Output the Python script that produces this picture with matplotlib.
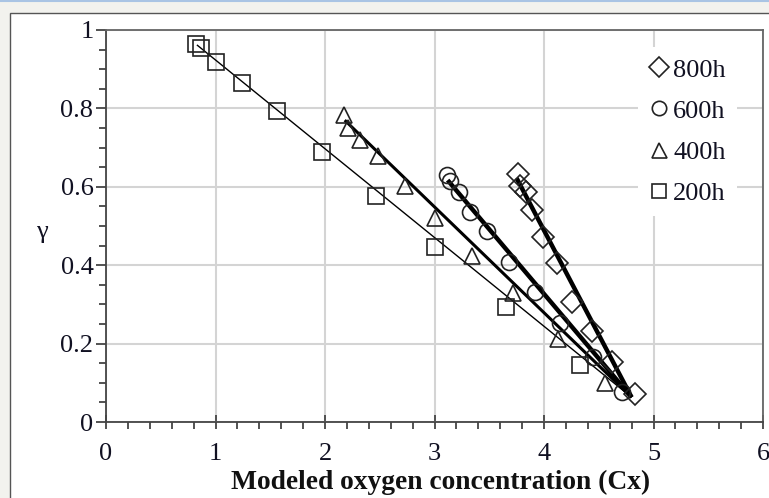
import numpy as np
import matplotlib
matplotlib.use('Agg')
import matplotlib.pyplot as plt
from matplotlib.patches import Rectangle
from matplotlib.lines import Line2D
from matplotlib.ticker import MultipleLocator, FuncFormatter

# ---- data ----
labels = ['800h', '600h', '400h', '200h']

x_800 = [3.76, 3.78, 3.84, 3.89, 3.99, 4.12, 4.26, 4.44, 4.62, 4.83]
y_800 = [0.633, 0.602, 0.587, 0.541, 0.472, 0.406, 0.306, 0.232, 0.153, 0.071]

x_600 = [3.11, 3.14, 3.22, 3.32, 3.48, 3.68, 3.92, 4.15, 4.45, 4.71]
y_600 = [0.630, 0.615, 0.587, 0.536, 0.487, 0.408, 0.332, 0.253, 0.166, 0.077]

x_400 = [2.17, 2.21, 2.32, 2.48, 2.73, 3.00, 3.34, 3.72, 4.13, 4.56]
y_400 = [0.783, 0.750, 0.719, 0.679, 0.602, 0.520, 0.423, 0.329, 0.212, 0.099]

x_200 = [0.82, 0.87, 1.00, 1.24, 1.56, 1.97, 2.47, 3.00, 3.65, 4.33]
y_200 = [0.964, 0.954, 0.918, 0.865, 0.793, 0.690, 0.577, 0.446, 0.293, 0.145]

# trend lines: start points per series, common end point
fit_start_x = {'800h': 3.75, '600h': 3.12, '400h': 2.18, '200h': 0.83}
fit_start_y = {'800h': 0.622, '600h': 0.617, '400h': 0.770, '200h': 0.962}
fit_end_x = 4.80
fit_end_y = 0.063

x_ticks = [0, 1, 2, 3, 4, 5, 6]
y_ticks = [0, 0.2, 0.4, 0.6, 0.8, 1.0]

# ---- figure ----
fig = plt.figure(figsize=(7.69, 4.98), dpi=100, facecolor='#f2f2ee')
fig.add_artist(Rectangle((10 / 769, -0.1), 1.2, 1 - 13 / 498 + 0.1,
                         transform=fig.transFigure, facecolor='white',
                         edgecolor='#555555', lw=1.0, zorder=-2))
fig.add_artist(Line2D([0, 1], [0.998, 0.998], transform=fig.transFigure,
                      color='#a9c4e4', lw=1.5, zorder=-1))

ax = fig.add_axes([106 / 769, 1 - 422 / 498, 657 / 769, 392 / 498])
ax.set_facecolor('white')

serif = 'Liberation Serif'
FS = 19
markers = {'800h': 'D', '600h': 'o', '400h': '^', '200h': 's'}
msizes = {'800h': 11, '600h': 11.5, '400h': 12, '200h': 11.5}
lwidths = {'800h': 3.2, '600h': 3.2, '400h': 2.2, '200h': 1.0}
data = {'800h': (x_800, y_800), '600h': (x_600, y_600),
        '400h': (x_400, y_400), '200h': (x_200, y_200)}

for lab in ['200h', '400h', '600h', '800h']:
    xs, ys = data[lab]
    ax.plot([fit_start_x[lab], fit_end_x], [fit_start_y[lab], fit_end_y],
            color='black', lw=lwidths[lab], zorder=3, solid_capstyle='butt')
    ax.plot(xs, ys, ls='none', marker=markers[lab], ms=msizes[lab],
            mfc='none', mec='#222222', mew=1.2, zorder=4)

ax.set_xlim(0, 6)
ax.set_ylim(0, 1)
ax.set_xticks(x_ticks)
ax.set_yticks(y_ticks)
ax.xaxis.set_minor_locator(MultipleLocator(0.2))
ax.yaxis.set_minor_locator(MultipleLocator(0.05))
ax.yaxis.set_major_formatter(FuncFormatter(lambda v, p: f'{v:g}'))
ax.grid(True, which='major', color='#d4d4d4', lw=1.5, zorder=0)
ax.set_axisbelow(True)

for s in ax.spines.values():
    s.set_color('#444444')
    s.set_linewidth(1.3)
ax.spines['top'].set_color('#666666')
ax.spines['right'].set_color('#666666')

ax.tick_params(axis='x', which='major', direction='inout', length=10,
               width=1.3, color='#444444', pad=10)
ax.tick_params(axis='x', which='minor', direction='out', length=5,
               width=1.3, color='#444444')
ax.tick_params(axis='y', which='major', direction='out', length=7,
               width=1.3, color='#444444', pad=2)
ax.tick_params(axis='y', which='minor', direction='out', length=5,
               width=1.3, color='#444444')
for t in ax.get_xticklabels() + ax.get_yticklabels():
    t.set_fontfamily(serif)
    t.set_fontsize(FS)
    t.set_color('#111122')

ax.set_xlabel('Modeled oxygen concentration (Cx)', fontfamily=serif,
              fontsize=19.8, fontweight='bold', color='#111111')
ax.xaxis.label.set_va('center')
ax.xaxis.set_label_coords((441 - 106) / 657, (422 - 482) / 392)
ax.set_ylabel('γ', rotation=0, fontfamily=serif, fontsize=FS,
              color='#111122')
ax.yaxis.label.set_va('center')
ax.yaxis.set_label_coords((42 - 106) / 657, (422 - 232) / 392)

handles = [Line2D([], [], ls='none', marker=markers[l], ms=msizes[l] * 0.9,
                  mfc='none', mec='#222222', mew=1.2) for l in labels]
leg = ax.legend(handles, labels, loc='upper right',
                bbox_to_anchor=((737 - 106) / 657, (422 - 47) / 392),
                borderaxespad=0, frameon=True, fancybox=False,
                facecolor='white', edgecolor='none', framealpha=1,
                handlelength=0.75, handletextpad=0.15, labelspacing=0.67,
                borderpad=0.42,
                prop={'family': serif, 'size': FS})
leg.set_zorder(5)
for t in leg.get_texts():
    t.set_color('#111122')

fig.savefig('out.png', dpi=100, facecolor=fig.get_facecolor())
